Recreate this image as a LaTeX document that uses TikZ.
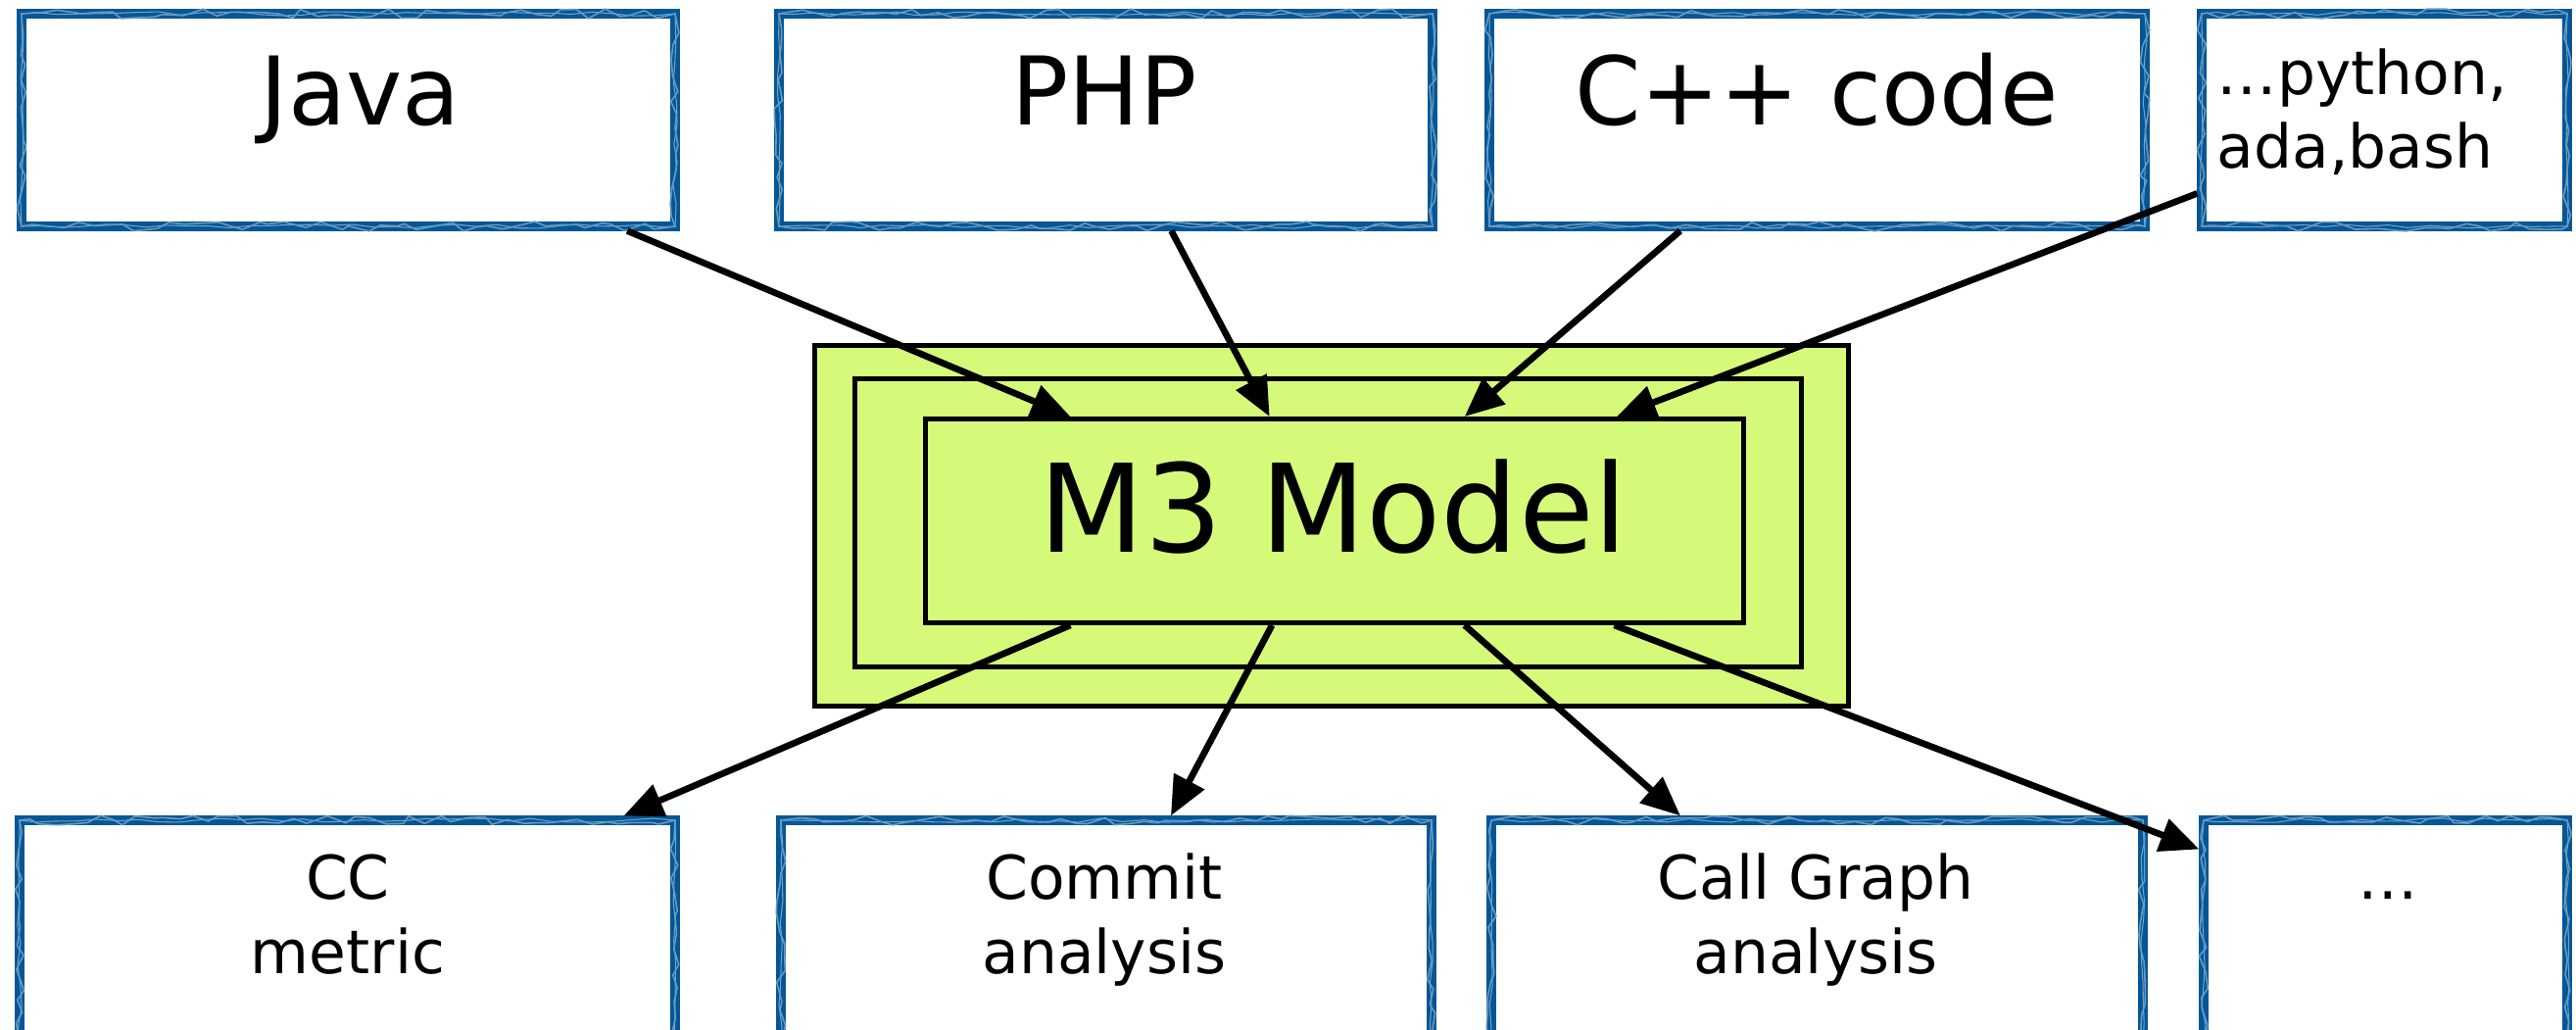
\documentclass[tikz,border=0pt]{standalone}
\usepackage{fontspec}
\setmainfont{DejaVu Sans}
\usetikzlibrary{arrows.meta,calc,decorations.pathmorphing}
\definecolor{boxblue}{RGB}{4,86,150}
\definecolor{mgreen}{RGB}{213,250,122}
\tikzset{
  bluebox/.style={rectangle, draw=boxblue, line width=2.6pt, fill=white, inner sep=0pt,
    postaction={draw=white, opacity=0.45, line width=0.3pt, decorate,
      decoration={random steps, segment length=6pt, amplitude=0.6pt}},
    postaction={draw=boxblue!60, line width=0.45pt, decorate,
      decoration={random steps, segment length=4pt, amplitude=1.4pt}}},
  greenbox/.style={rectangle, draw=black, line width=1.4pt, fill=mgreen, inner sep=0pt},
  conn/.style={draw=black, line width=1.9pt, -{Triangle[length=0.4cm,width=0.34cm]}},
  bigtxt/.style={font=\fontsize{27.5}{33}\selectfont, inner sep=0pt, anchor=base},
  smalltxt/.style={font=\fontsize{17.5}{21.5}\selectfont, inner sep=0pt, align=center, anchor=base},
}
\begin{document}
\begin{tikzpicture}
\pgfmathsetseed{7}
\useasboundingbox (0,0) rectangle (26.29,-10.51);
\clip (0,0) rectangle (26.29,-10.51);
% source boxes
\node[bluebox, minimum width=6.67cm, minimum height=2.17cm] (java) at (3.555,-1.225) {};
\node[bluebox, minimum width=6.67cm, minimum height=2.17cm] (php) at (11.285,-1.225) {};
\node[bluebox, minimum width=6.69cm, minimum height=2.17cm] (cpp) at (18.545,-1.225) {};
\node[bluebox, minimum width=3.73cm, minimum height=2.17cm] (py) at (24.335,-1.225) {};
% result boxes
\node[bluebox, minimum width=6.69cm, minimum height=2.29cm] (cc) at (3.545,-9.515) {};
\node[bluebox, minimum width=6.64cm, minimum height=2.29cm] (commit) at (11.29,-9.515) {};
\node[bluebox, minimum width=6.65cm, minimum height=2.29cm] (callg) at (18.545,-9.515) {};
\node[bluebox, minimum width=3.71cm, minimum height=2.29cm] (more) at (24.345,-9.515) {};
% model boxes
\node[greenbox, minimum width=10.55cm, minimum height=3.68cm] (outer) at (13.59,-5.365) {};
\node[greenbox, minimum width=9.66cm, minimum height=2.94cm] (middle) at (13.555,-5.335) {};
\node[greenbox, minimum width=8.35cm, minimum height=2.08cm] (m3) at (13.62,-5.315) {};
% texts
\node[bigtxt] (javaT) at (3.68,-1.28) {Java};
\node[bigtxt] (phpT) at (11.27,-1.28) {PHP};
\node[bigtxt] (cppT) at (18.54,-1.28) {C++ code};
\node[smalltxt, align=left, anchor=base west] (pyT) at (22.62,-1.72) {…python,\\ada,bash};
\node[font=\fontsize{35.5}{42}\selectfont, inner sep=0pt, anchor=base] (m3T) at (13.61,-5.63) {M3 Model};
\node[smalltxt] (ccT) at (3.55,-9.93) {CC\\metric};
\node[smalltxt] (commitT) at (11.27,-9.93) {Commit\\analysis};
\node[smalltxt] (callgT) at (18.53,-9.93) {Call Graph\\analysis};
\node[smalltxt] (moreT) at (24.37,-9.17) {…};
% connectors
\draw[conn] ($(java.south west)!0.921!(java.south east)$) -- ($(m3.north west)!0.179!(m3.north east)$);
\draw[conn] ($(php.south west)!0.599!(php.south east)$) -- ($(m3.north west)!0.421!(m3.north east)$);
\draw[conn] ($(cpp.south west)!0.294!(cpp.south east)$) -- ($(m3.north west)!0.658!(m3.north east)$);
\draw[conn] ($(py.north west)!0.831!(py.south west)$) -- ($(m3.north west)!0.843!(m3.north east)$);
\draw[conn] ($(m3.south west)!0.179!(m3.south east)$) -- ($(cc.north west)!0.916!(cc.north east)$);
\draw[conn] ($(m3.south west)!0.424!(m3.south east)$) -- ($(commit.north west)!0.598!(commit.north east)$);
\draw[conn] ($(m3.south west)!0.658!(m3.south east)$) -- ($(callg.north west)!0.293!(callg.north east)$);
\draw[conn] ($(m3.south west)!0.840!(m3.south east)$) -- ($(more.north west)!0.143!(more.south west)$);
\end{tikzpicture}
\end{document}
